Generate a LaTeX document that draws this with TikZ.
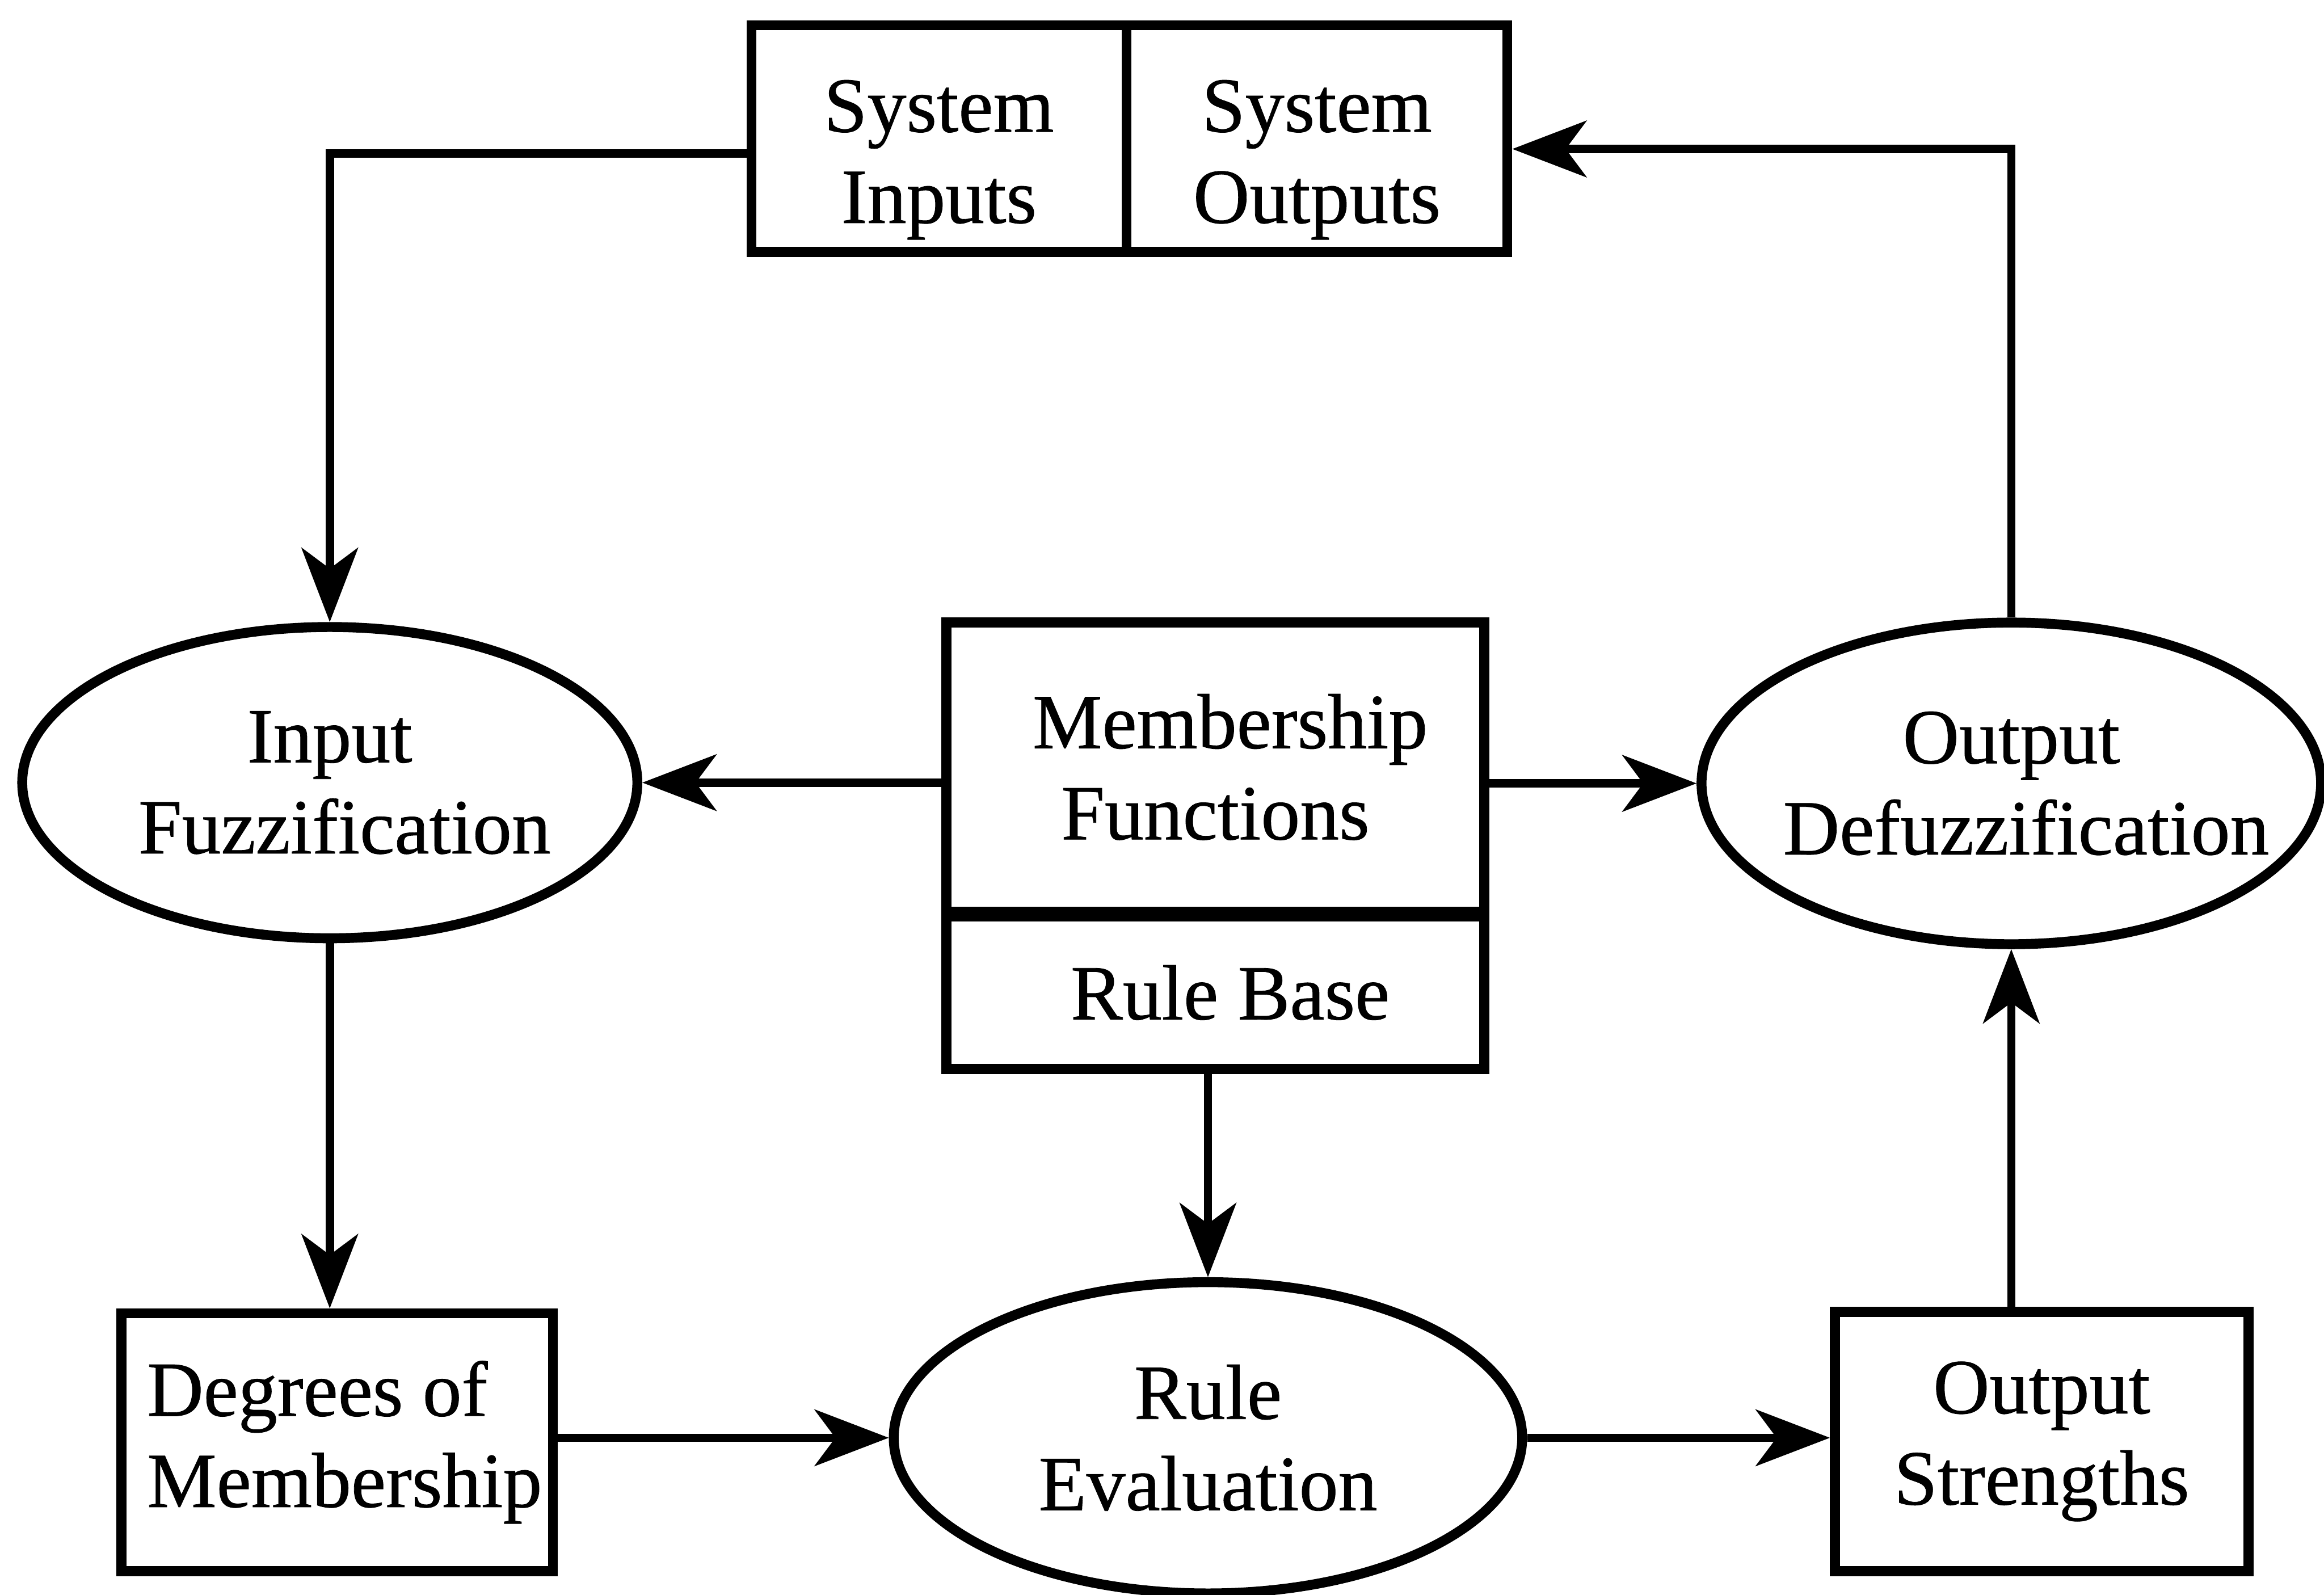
\documentclass[tikz,border=0pt]{standalone}
\usepackage{fontspec}
\setmainfont{Liberation Serif}
\newfontfamily\boxfont[FakeBold=0.6]{Liberation Serif}
\usetikzlibrary{shapes.geometric,arrows.meta,positioning}

\begin{document}
\begin{tikzpicture}[
  txt/.style={font=\boxfont\fontsize{15}{17.5}\selectfont, align=center, inner sep=0pt},
  blk/.style={txt, draw, line width=1.9pt},
  oval/.style={txt, draw, ellipse, line width=1.9pt, inner xsep=-5mm},
  flow/.style={line width=1.6pt, -{Stealth[length=5mm,width=3.8mm,inset=1.4mm]}}
]
\useasboundingbox (0,0) rectangle (15.68,-10.76);
  % system inputs / outputs
  \node[blk, minimum width=2.53cm, minimum height=1.53cm, text height=12.5mm] (sysin) at (6.335,-0.935) {System\\Inputs};
  \node[blk, minimum width=2.57cm, minimum height=1.53cm, text height=12.5mm] (sysout) at (8.885,-0.935) {System\\Outputs};
  % middle row
  \node[oval, minimum width=4.15cm, minimum height=2.10cm] (infuz) at (2.225,-5.28) {Input\\\hspace*{2mm}Fuzzification};
  \node[blk, minimum width=3.63cm, minimum height=1.95cm] (mf) at (8.2,-5.175) {\hspace*{2mm}Membership\\Functions};
  \node[blk, minimum width=3.63cm, minimum height=1.03cm, below=-1pt of mf] (rb) {\hspace*{2mm}Rule Base};
  \node[oval, minimum width=4.18cm, minimum height=2.17cm] (outdefuz) at (13.57,-5.285) {Output\\\hspace*{2mm}Defuzzification};
  % bottom row
  \node[blk, align=left, minimum width=2.91cm, minimum height=1.74cm] (degrees) at (2.275,-9.73) {\hspace*{1mm}Degrees of\\\hspace*{1mm}Membership};
  \node[oval, minimum width=4.24cm, minimum height=2.10cm] (ruleeval) at (8.15,-9.70) {Rule\\Evaluation};
  \node[blk, minimum width=2.79cm, minimum height=1.75cm] (outstr) at (13.775,-9.725) {Output\\Strengths};

  \draw[flow] ([yshift=-1mm]sysin.west) -| (infuz.north);
  \draw[flow] (outdefuz.north) |- ([yshift=-0.7mm]sysout.east);
  \draw[flow] (mf.west |- infuz.east) -- (infuz.east);
  \draw[flow] (mf.east |- outdefuz.west) -- (outdefuz.west);
  \draw[flow] (infuz.south) -- (infuz.south |- degrees.north);
  \draw[flow] (ruleeval.north |- rb.south) -- (ruleeval.north);
  \draw[flow] (degrees.east |- ruleeval.west) -- (ruleeval.west);
  \draw[flow] (ruleeval.east) -- (ruleeval.east -| outstr.west);
  \draw[flow] (outdefuz.south |- outstr.north) -- (outdefuz.south);
\end{tikzpicture}
\end{document}
